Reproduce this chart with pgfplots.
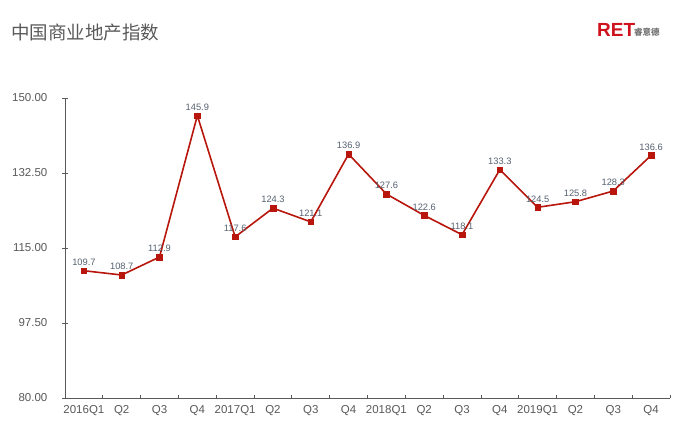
\documentclass[border=0pt]{standalone}
\usepackage{pgfplots}
\pgfplotsset{compat=1.18}
\usepackage{fontspec}
\setmainfont{Liberation Sans}
\newfontfamily\cjk{Noto Sans CJK SC}
\definecolor{linered}{RGB}{184,22,12}
\definecolor{axgray}{RGB}{89,89,89}
\definecolor{lblgray}{RGB}{85,96,112}
\definecolor{logored}{RGB}{206,18,30}
\begin{document}
\begin{tikzpicture}[x=1pt,y=1pt]
\useasboundingbox (0,0) rectangle (681,432);
\node[anchor=west, text=axgray, font=\cjk\fontsize{18.5}{18.5}\selectfont, inner sep=0] at (11,400) {中国商业地产指数};
\node[anchor=base west, text=logored, font=\bfseries\fontsize{19}{19}\selectfont, inner sep=0] at (597,395) {RET};
\node[anchor=base west, text=axgray!85, font=\cjk\bfseries\fontsize{8.5}{8.5}\selectfont, inner sep=0] at (634,396) {睿意德};
\begin{axis}[
  at={(65pt,34pt)}, anchor=south west,
  scale only axis, width=605pt, height=300pt,
  xmin=0, xmax=16, ymin=80, ymax=150,
  axis lines=left, axis line style={axgray, line width=0.8pt, -},
  ytick={80,97.5,115,132.5,150},
  yticklabels={80.00,97.50,115.00,132.50,150.00},
  yticklabel style={text=axgray, font=\fontsize{11.5}{12}\selectfont, xshift=-12pt},
  xtick={0,1,...,16},
  x tick label as interval,
  xticklabels={2016Q1,Q2,Q3,Q4,2017Q1,Q2,Q3,Q4,2018Q1,Q2,Q3,Q4,2019Q1,Q2,Q3,Q4},
  xticklabel style={text=axgray, font=\fontsize{11.5}{12}\selectfont, yshift=-2pt},
  x tick style={axgray, line width=0.8pt, /pgfplots/major tick length=3.5pt, /pgfplots/tick align=inside},
  y tick style={axgray, line width=0.8pt, /pgfplots/major tick length=6pt, /pgfplots/tick align=center},
  /pgf/number format/assume math mode=true,
  clip=false,
  nodes near coords,
  every node near coord/.style={text=lblgray, font=\fontsize{9.3}{9.3}\selectfont, anchor=south, yshift=1.5pt, /pgf/number format/fixed, /pgf/number format/precision=1, /pgf/number format/fixed zerofill},
]
\addplot[color=linered, line width=1.6pt, mark=square*, mark size=2.8pt, mark options={fill=linered, draw=linered, line width=0.5pt}] coordinates {
(0.5,109.7) (1.5,108.7) (2.5,112.9) (3.5,145.9) (4.5,117.6) (5.5,124.3) (6.5,121.1) (7.5,136.9)
(8.5,127.6) (9.5,122.6) (10.5,118.1) (11.5,133.3) (12.5,124.5) (13.5,125.8) (14.5,128.3) (15.5,136.6)
};
\end{axis}
\end{tikzpicture}
\end{document}
